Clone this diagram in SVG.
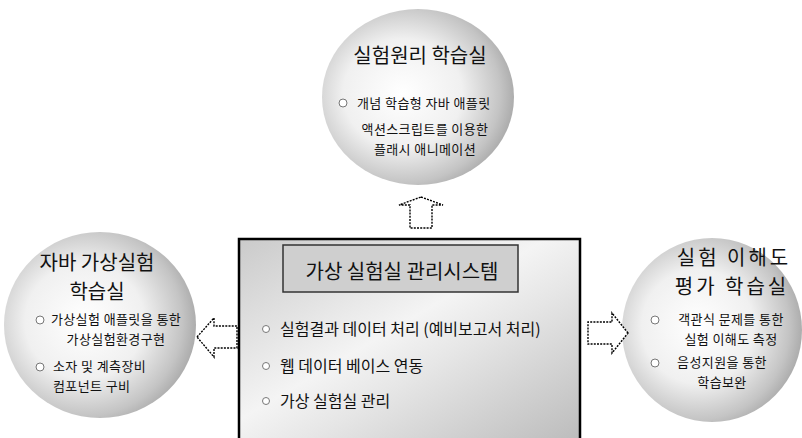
<svg xmlns="http://www.w3.org/2000/svg" width="802" height="438" viewBox="0 0 802 438">
<defs>
<radialGradient id="sph" cx="0.42" cy="0.48" r="0.62">
<stop offset="0" stop-color="#ffffff"/>
<stop offset="0.5" stop-color="#f0f0f0"/>
<stop offset="0.82" stop-color="#c4c4c4"/>
<stop offset="1" stop-color="#a0a0a0"/>
</radialGradient>
<linearGradient id="boxg" x1="0" y1="0" x2="1" y2="1">
<stop offset="0" stop-color="#cacaca"/>
<stop offset="0.45" stop-color="#f4f4f4"/>
<stop offset="0.6" stop-color="#e6e6e6"/>
<stop offset="1" stop-color="#bcbcbc"/>
</linearGradient>
<style>
text{font-family:"Noto Sans CJK KR","Noto Sans",sans-serif;fill:#111}
.h{font-size:20px}
.t{font-size:13px;letter-spacing:0.4px}
.b{font-size:16px}
.bul{fill:#fff;stroke:#777;stroke-width:1}
.arr{fill:#fff;stroke:#000;stroke-width:1.4;stroke-dasharray:2 1.2}
</style>
</defs>
<rect width="802" height="438" fill="#fff"/>
<g id="top">
<ellipse cx="418" cy="97" rx="96" ry="88" fill="url(#sph)"/>
<text class="h" x="420" y="63" text-anchor="middle" font-size="21">실험원리 학습실</text>
<circle class="bul" cx="343" cy="103" r="4"/>
<text class="t" x="357" y="108">개념 학습형 자바 애플릿</text>
<text class="t" x="425" y="134" text-anchor="middle">액션스크립트를 이용한</text>
<text class="t" x="425" y="154" text-anchor="middle">플래시 애니메이션</text>
</g>
<g id="left">
<ellipse cx="100" cy="325" rx="96" ry="93" fill="url(#sph)"/>
<text class="h" x="97" y="270" text-anchor="middle">자바 가상실험</text>
<text class="h" x="97" y="299" text-anchor="middle">학습실</text>
<circle class="bul" cx="40" cy="320" r="4"/>
<text class="t" x="116" y="324" text-anchor="middle">가상실험 애플릿을 통한</text>
<text class="t" x="116" y="344" text-anchor="middle">가상실험환경구현</text>
<circle class="bul" cx="40" cy="367" r="4"/>
<text class="t" x="53" y="371">소자 및 계측장비</text>
<text class="t" x="53" y="391">컴포넌트 구비</text>
</g>
<g id="right">
<ellipse cx="712" cy="330" rx="90" ry="92" fill="url(#sph)"/>
<text class="h" x="734" y="265" text-anchor="middle" letter-spacing="3">실험 이해도</text>
<text class="h" x="732" y="294" text-anchor="middle" letter-spacing="3">평가 학습실</text>
<circle class="bul" cx="655" cy="320" r="4"/>
<text class="t" x="731" y="324" text-anchor="middle">객관식 문제를 통한</text>
<text class="t" x="731" y="344" text-anchor="middle">실험 이해도 측정</text>
<circle class="bul" cx="655" cy="363" r="4"/>
<text class="t" x="722" y="367" text-anchor="middle">음성지원을 통한</text>
<text class="t" x="722" y="387" text-anchor="middle">학습보완</text>
</g>
<g id="center">
<rect x="239" y="239" width="341" height="201" fill="url(#boxg)" stroke="#000" stroke-width="2.5"/>
<rect x="283" y="245" width="235" height="47" fill="#cfcfcf" stroke="#333" stroke-width="1.5"/>
<text x="402" y="279" text-anchor="middle" font-size="20">가상 실험실 관리시스템</text>
<circle class="bul" cx="266" cy="329" r="3.5" stroke="#333"/>
<text class="b" x="280" y="335">실험결과 데이터 처리 (예비보고서 처리)</text>
<circle class="bul" cx="266" cy="366" r="3.5" stroke="#333"/>
<text class="b" x="280" y="372">웹 데이터 베이스 연동</text>
<circle class="bul" cx="266" cy="401" r="3.5" stroke="#333"/>
<text class="b" x="280" y="407">가상 실험실 관리</text>
</g>
<g id="connectors">
<path class="arr" d="M421,197 L443,205 L432,205 L432,228 L410,228 L410,205 L399,205 Z"/>
<path class="arr" d="M197,337 L214,318 L214,326 L237,326 L237,348 L214,348 L214,357 Z"/>
<path class="arr" d="M628,333 L612,313 L612,322 L588,322 L588,344 L612,344 L612,353 Z"/>
</g>
</svg>
